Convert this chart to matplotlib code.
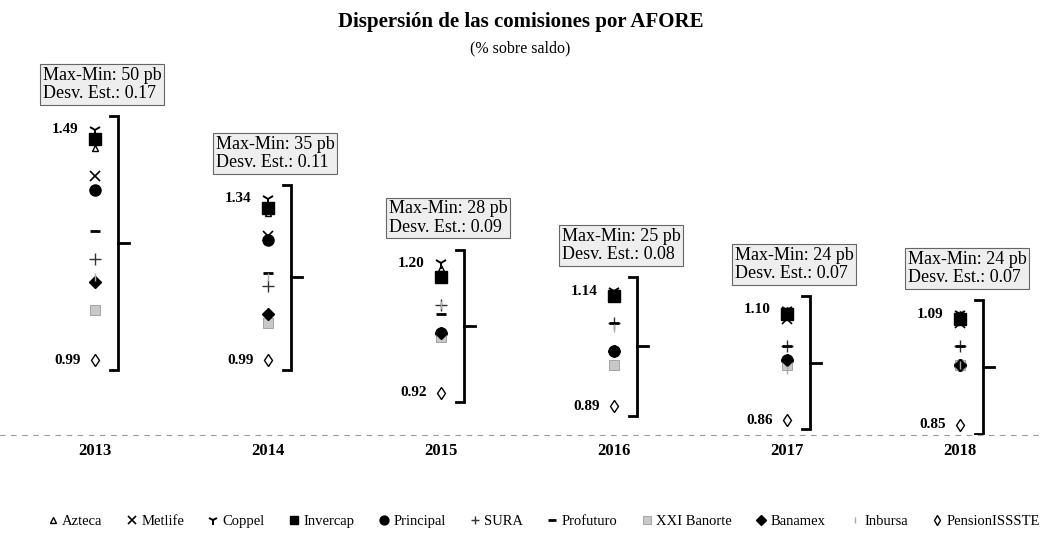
import matplotlib
matplotlib.use("Agg")
import matplotlib.pyplot as plt
import numpy as np

# data (% sobre saldo)
years = ['2013', '2014', '2015', '2016', '2017', '2018']
azteca = [1.45, 1.31, 1.19, 1.13, 1.10, 1.09]
metlife = [1.39, 1.26, 1.17, 1.13, 1.08, 1.07]
coppel = [1.49, 1.34, 1.20, 1.14, 1.10, 1.09]
invercap = [1.47, 1.32, 1.17, 1.13, 1.09, 1.08]
principal = [1.36, 1.25, 1.05, 1.01, 0.99, 0.98]
sura = [1.21, 1.15, 1.11, 1.07, 1.02, 1.02]
profuturo = [1.27, 1.18, 1.09, 1.07, 1.02, 1.02]
xxi_banorte = [1.10, 1.07, 1.04, 0.98, 0.98, 0.98]
banamex = [1.16, 1.09, 1.05, 1.01, 0.99, 0.98]
inbursa = [1.17, 1.17, 1.11, 1.06, 0.97, 0.98]
pension = [0.99, 0.99, 0.92, 0.89, 0.86, 0.85]

maxmin_txt = ['50', '35', '28', '25', '24', '24']
desv_txt = ['0.17', '0.11', '0.09', '0.08', '0.07', '0.07']

series = [
    ('Azteca', azteca, dict(marker='^', color='black', ms=5, mfc='none', mew=1)),
    ('Metlife', metlife, dict(marker='x', color='black', ms=7, mew=1.2)),
    ('Coppel', coppel, dict(marker='1', color='black', ms=9, mew=1.4)),
    ('Invercap', invercap, dict(marker='s', color='black', ms=8)),
    ('Principal', principal, dict(marker='o', color='black', ms=8)),
    ('SURA', sura, dict(marker='+', color='#333333', ms=8, mew=1)),
    ('Profuturo', profuturo, dict(marker='_', color='black', ms=7, mew=2)),
    ('XXI Banorte', xxi_banorte, dict(marker='s', color='#c8c8c8', ms=7, mec='#999999', mew=0.6)),
    ('Banamex', banamex, dict(marker='D', color='black', ms=6)),
    ('Inbursa', inbursa, dict(marker='|', color='#aaaaaa', ms=6, mew=1)),
    ('PensionISSSTE', pension, dict(marker='d', color='black', ms=6, mfc='white', mew=1)),
]

plt.rcParams['font.family'] = ['Liberation Serif', 'DejaVu Serif']

fig = plt.figure(figsize=(10.41, 5.40), dpi=100)
ax = fig.add_axes([0, 1 - 435 / 540, 1, 375 / 540])

xs = np.arange(len(years))
for name, vals, st in series:
    ax.plot(xs, vals, linestyle='none', label=name, **st)

allv = np.array([s[1] for s in series])
vmax = allv.max(axis=0)
vmin = allv.min(axis=0)

bx = 0.135  # bracket offset to the right of the markers
for i in xs:
    top = vmax[i] + 0.03
    bot = vmin[i] - 0.02
    mid = (top + bot) / 2
    x0 = i + bx
    ax.plot([x0 - 0.05, x0, x0, x0 - 0.05], [top, top, bot, bot],
            color='black', lw=2, solid_joinstyle='miter')
    ax.plot([x0, x0 + 0.06], [mid, mid], color='black', lw=2)
    ax.annotate(f'{vmax[i]:.2f}', (i, vmax[i]), xytext=(-12, 0),
                textcoords='offset points', ha='right', va='center',
                fontsize=11, fontweight='bold')
    ax.annotate(f'{vmin[i]:.2f}', (i, vmin[i]), xytext=(-10, 0),
                textcoords='offset points', ha='right', va='center',
                fontsize=11, fontweight='bold')
    ax.annotate(f'Max-Min: {maxmin_txt[i]} pb\nDesv. Est.: {desv_txt[i]}',
                (i, top), xytext=(5, 10), textcoords='offset points',
                ha='center', va='bottom', fontsize=13, multialignment='left',
                linespacing=1.1,
                bbox=dict(boxstyle='square,pad=0.15', fc='#eeeeee',
                          ec='#666666', lw=0.8))

ax.set_xlim(-95 / 173, (1041 - 95) / 173)
ax.set_ylim(0.828, 1.641)
ax.set_yticks([])
ax.set_xticks(xs)
ax.set_xticklabels(years, fontsize=12, fontweight='bold')
ax.tick_params(axis='x', length=0, pad=6)
for s in ['top', 'right', 'left']:
    ax.spines[s].set_visible(False)
ax.spines['bottom'].set_linestyle((0, (4, 6)))
ax.spines['bottom'].set_color('#999999')
ax.spines['bottom'].set_linewidth(0.8)
ax.patch.set_alpha(0)

fig.text(0.5, 1 - 22 / 540, 'Dispersión de las comisiones por AFORE',
         ha='center', va='center', fontsize=15, fontweight='bold')
fig.text(0.5, 1 - 48 / 540, '(% sobre saldo)', ha='center', va='center',
         fontsize=11.5)

fig.legend(loc='center', bbox_to_anchor=(0.522, 1 - 521 / 540), ncol=11,
           frameon=False, fontsize=10.5, handlelength=0.8, handletextpad=0.25,
           columnspacing=1.6, markerscale=0.8)

fig.savefig('out.png', dpi=100)
